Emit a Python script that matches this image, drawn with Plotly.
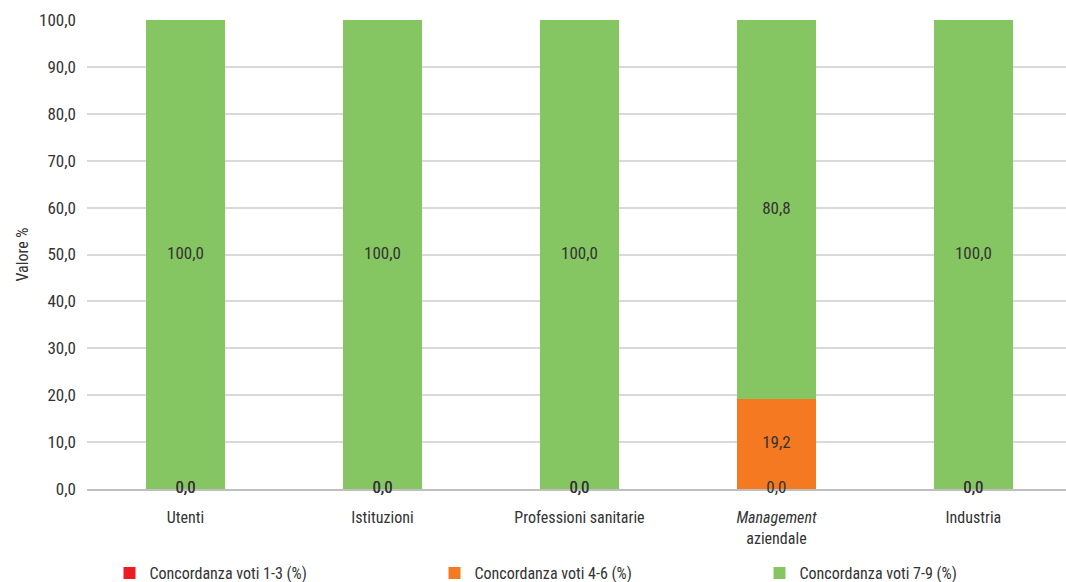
import plotly.graph_objects as go

categories = ["Utenti", "Istituzioni", "Professioni sanitarie", "Management aziendale", "Industria"]
tick_labels = ["Utenti", "Istituzioni", "Professioni sanitarie", "<i>Management</i><br>aziendale", "Industria"]
series_names = ["Concordanza voti 1-3 (%)", "Concordanza voti 4-6 (%)", "Concordanza voti 7-9 (%)"]
voti_1_3 = [0.0, 0.0, 0.0, 0.0, 0.0]
voti_4_6 = [0.0, 0.0, 0.0, 19.2, 0.0]
voti_7_9 = [100.0, 100.0, 100.0, 80.8, 100.0]
colors = ["#ED1C24", "#F47920", "#86C662"]

FONT = "Liberation Sans Narrow, Roboto Condensed, Arial Narrow, sans-serif"
TXT = "#333333"

fig = go.Figure()
series = [voti_1_3, voti_4_6, voti_7_9]
x = list(range(len(categories)))
base = [0.0] * len(categories)
label_traces = []
for name, vals, col in zip(series_names, series, colors):
    fig.add_trace(go.Bar(x=x, y=vals, name=name, marker=dict(color=col, line=dict(width=0)),
                         width=0.4))
    mids = [b + v / 2 for b, v in zip(base, vals)]
    label_traces.append(go.Scatter(x=x, y=mids, text=vals, mode="text",
                                   texttemplate="%{text:.1f}", showlegend=False,
                                   textposition="middle center", cliponaxis=False,
                                   textfont=dict(family=FONT, size=17, color=TXT),
                                   hoverinfo="skip"))
    base = [b + v for b, v in zip(base, vals)]
for t in label_traces:
    fig.add_trace(t)

fig.update_layout(
    width=1066, height=582,
    barmode="stack",
    separators=",.",
    plot_bgcolor="white", paper_bgcolor="white",
    margin=dict(l=87, r=0, t=20, b=93, autoexpand=False),
    font=dict(family=FONT, size=16, color=TXT),
    legend=dict(orientation="h", x=0.023, xanchor="left", y=-0.143, yanchor="top",
                entrywidth=280, entrywidthmode="pixels", traceorder="normal",
                font=dict(family=FONT, size=16, color=TXT), itemwidth=30),
    showlegend=True,
)
fig.update_xaxes(tickvals=x, ticktext=tick_labels, range=[-0.5, 4.47],
                 showline=True, linecolor="#bfbfbf", linewidth=1.5, layer="below traces",
                 ticks="", ticklabelstandoff=13, showgrid=False,
                 tickfont=dict(family=FONT, size=16, color=TXT))
fig.update_yaxes(range=[0, 100], dtick=10, tickformat=".1f",
                 showgrid=True, gridcolor="#d9d9d9", gridwidth=1.5,
                 zeroline=False, ticks="", ticklabelstandoff=10,
                 title=dict(text="Valore %", standoff=6, font=dict(family=FONT, size=16, color=TXT)),
                 tickfont=dict(family=FONT, size=17, color=TXT))

fig.write_html("out.html")
